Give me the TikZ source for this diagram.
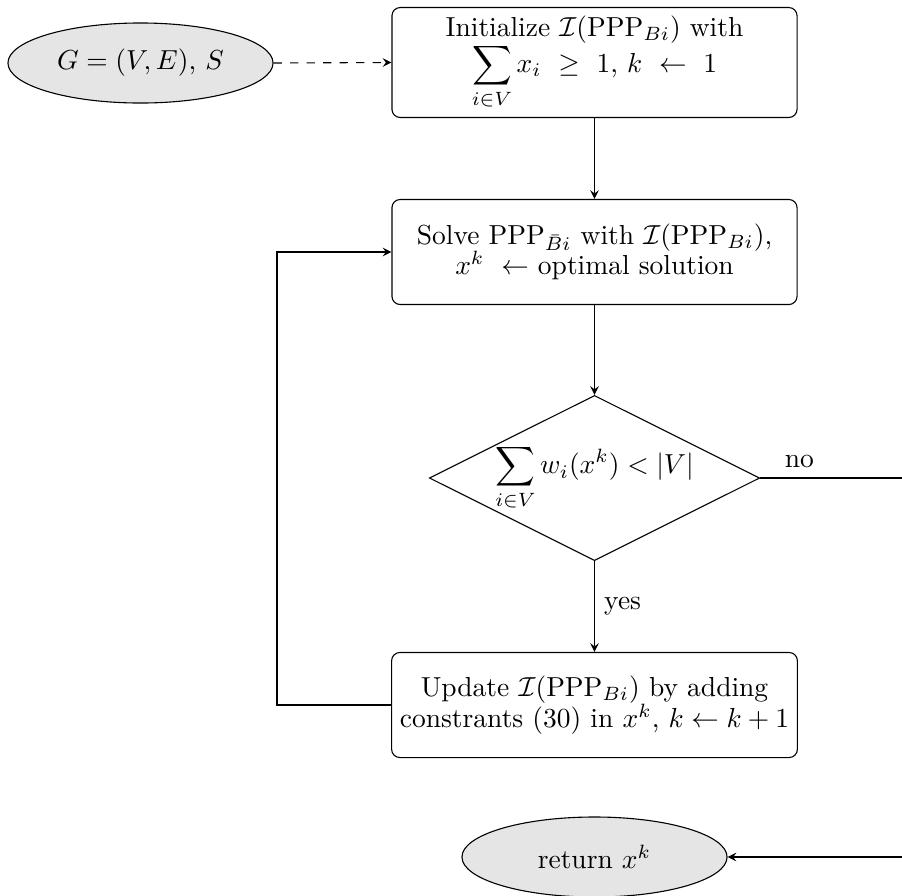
\documentclass[tikz,border=0pt]{standalone}
\usetikzlibrary{shapes.geometric,arrows}
\begin{document}
\begin{tikzpicture}[x=0.3636pt,y=-0.3636pt,
  terminal/.style={ellipse,draw,fill=black!10,minimum width=96.4pt,minimum height=29.1pt},
  stepbox/.style={rectangle,rounded corners=3pt,draw,align=center,
                  minimum width=147.3pt,minimum height=38.2pt,inner sep=3pt},
  decision/.style={diamond,draw,aspect=2,minimum width=118.2pt,minimum height=58.5pt,inner sep=0pt},
  flow/.style={-stealth},
]
\clip (0,0) rectangle (902,895);

% nodes
\node[terminal] (in) at (140.5,63) {$G=(V,E)$, $S$};
\node[stepbox] (init) at (594.5,62.5)
  {Initialize $\mathcal{I}(\mathrm{PPP}_{Bi})$ with\\[-1pt]
   $\displaystyle\sum_{i\in V} x_i \ \geq\ 1$, $k \ \leftarrow\ 1$};
\node[stepbox] (solve) at (594.5,252)
  {Solve $\mathrm{PPP}_{\bar{B}i}$ with $\mathcal{I}(\mathrm{PPP}_{Bi})$,\\[-1pt]
   $x^k\ \leftarrow$ optimal solution};
\node[decision] (test) at (594.5,478)
  {$\displaystyle\sum_{i\in V} w_i(x^k) < |V|$};
\node[stepbox] (update) at (594.5,705)
  {Update $\mathcal{I}(\mathrm{PPP}_{Bi})$ by adding\\[-1pt]
   constrants (30) in $x^k$, $k \leftarrow k+1$};
\node[terminal] (ret) at (594.5,857) {return $x^k$};

% helper points for the routed connectors
\coordinate (loopx) at (277,0);
\coordinate (noturn) at (930,0);

% connectors
\draw[flow,dashed] (in.east) -- (init.west);
\draw[flow] (init.south) -- (solve.north);
\draw[flow] (solve.south) -- (test.north);
\draw[flow] (test.south) -- node[right] {yes} (update.north);
\draw[flow] (update.west) -| (loopx |- solve.west) -- (solve.west);
\draw[flow] (test.east) -- node[above,pos=0.23] {no} (test.east -| noturn)
  |- (ret.east);
\end{tikzpicture}
\end{document}
